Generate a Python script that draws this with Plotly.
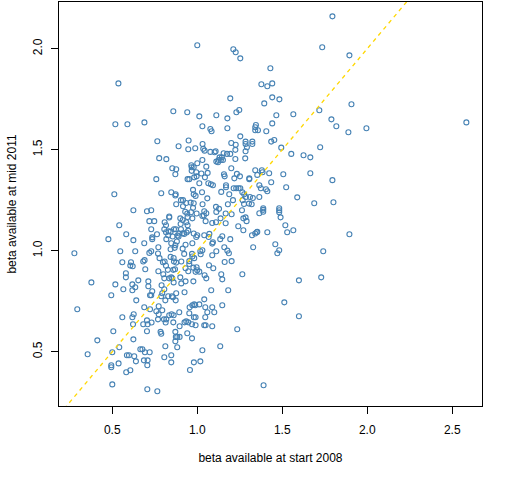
import plotly.graph_objects as go

# beta estimates (x: start 2008, y: mid 2011)
beta_start_2008 = [
    # upper left
    0.536, 0.859, 0.941, 0.518, 0.589, 0.689,
    # upper middle
    1.000, 1.212, 1.226, 1.253, 1.735, 1.430, 1.377, 1.412,
    1.441, 1.194, 1.441, 1.483, 1.394, 1.247, 1.230, 1.012,
    1.112, 1.177, 1.465, 1.565, 1.718, 1.030, 1.077, 1.084,
    1.177, 1.345, 1.341, 1.357, 1.341, 1.406, 1.441, 1.253,
    # right side
    1.795, 1.895, 1.907, 1.789, 1.818, 1.889, 1.995, 2.583, 1.795, 1.801, 1.895,
    # left middle
    0.765, 0.949, 0.890, 0.947, 0.776, 0.818, 0.965, 0.853,
    0.876, 0.967, 0.967, 0.871, 0.759, 0.943, 0.953, 0.512,
    0.788, 0.847, 0.873, 0.871, 0.904, 0.916, 0.876, 0.935,
    0.961, 0.916, 0.624, 0.704, 0.729, 0.929, 0.941, 0.963,
    0.835, 0.835, 0.900, 0.914, 0.943, 0.971, 0.935, 0.718,
    0.747, 0.808, 0.541, 0.816, 0.902, 0.943, 0.729, 0.806,
    0.831, 0.863, 0.874, 0.904, 0.947, 0.937, 0.582, 0.763,
    0.816, 0.843, 0.829, 0.894, 0.914, 0.923, 0.735, 0.735,
    0.855, 0.884, 0.890, 0.477, 0.624, 0.688, 0.771, 0.818,
    0.847, 0.880, 0.871, 0.931, 0.971, 0.277, 0.547, 0.635,
    0.729, 0.718, 0.769, 0.843, 0.867, 0.914, 0.923, 0.969,
    0.690, 0.682, 0.559, 0.610, 0.606, 0.620, 0.778, 0.798,
    0.808, 0.843, 0.861, 0.863, 0.876, 0.906, 0.971, 0.953,
    0.953, 0.694, 0.771, 0.816, 0.827, 0.859, 0.869, 0.931,
    0.947,
    # lower left
    0.580, 0.580, 0.800, 0.806, 0.835, 0.847, 0.853, 0.900,
    0.377, 0.518, 0.618, 0.635, 0.653, 0.712, 0.712, 0.565,
    0.618, 0.790, 0.806, 0.861, 0.906, 0.931, 0.494, 0.722,
    0.729, 0.735, 0.794, 0.788, 0.829, 0.851, 0.857, 0.876,
    0.925, 0.641, 0.812, 0.873, 0.294, 0.688, 0.722, 0.759,
    0.773, 0.794, 0.773, 0.626, 0.618, 0.559, 0.849, 0.835,
    0.861, 0.894, 0.953, 0.955, 0.971, 0.804, 0.818, 0.704,
    0.682, 0.731, 0.708, 0.622, 0.769, 0.814, 0.859, 0.925,
    0.935, 0.947, 0.969, 0.896, 0.506, 0.704, 0.784, 0.788,
    0.871, 0.941, 0.969, 0.874, 0.882, 0.896, 0.412, 0.624,
    0.871, 0.812, 0.882, 0.355, 0.500, 0.541, 0.665, 0.677,
    0.720, 0.692, 0.586, 0.598, 0.629, 0.806, 0.847, 0.639,
    0.686, 0.708, 0.847, 0.494, 0.494, 0.537, 0.606, 0.582,
    0.706, 0.957, 0.500, 0.706, 0.765, 0.977, 0.982, 0.980,
    0.980,
    # lower middle
    1.043, 1.053, 1.141, 1.147, 1.265, 1.598, 1.729, 1.082,
    1.182, 1.041, 1.012, 0.988, 1.047, 1.088, 1.147, 1.512,
    1.059, 1.100, 0.990, 1.047, 1.598, 0.990, 1.041, 1.049,
    1.088, 1.235, 1.030, 1.135, 1.018, 1.390,
    # centre
    1.435, 1.453, 1.284, 1.284, 1.324, 1.324, 1.200, 1.226,
    1.031, 0.988, 1.035, 1.043, 1.077, 1.108, 1.102, 1.155,
    1.175, 1.194, 1.224, 1.292, 1.284, 1.494, 1.553, 1.625,
    1.665, 1.723, 1.131, 1.145, 1.126, 1.139, 1.151, 1.122,
    1.112, 1.030, 1.224, 1.282, 1.000, 1.053, 0.979, 1.200,
    1.341, 1.380, 1.384, 1.423, 1.506, 1.665, 1.233, 1.251,
    1.218, 1.157, 1.161, 0.994, 0.996, 1.024, 1.061, 1.045,
    0.982, 1.306, 1.306, 1.353, 1.435, 1.012, 1.065, 1.080,
    1.092, 1.169, 1.169, 1.214, 1.229, 1.243, 1.253, 1.365,
    1.374, 1.404, 1.412, 1.523, 0.975, 0.979, 0.990, 1.141,
    1.188, 1.265, 1.276, 1.286, 1.310, 1.327, 1.365, 1.588,
    1.059, 1.028, 1.210, 1.267, 1.275, 1.304, 1.320, 0.979,
    1.031, 0.975, 1.110, 1.128, 1.180, 1.388, 1.388, 1.388,
    1.482, 1.482, 1.482, 1.688, 1.263, 1.112, 0.996, 1.041,
    1.053, 1.039, 1.030, 1.167, 1.202, 1.365, 1.137, 1.271,
    1.284, 1.290, 1.049, 1.088, 1.110, 1.167, 1.490, 1.518,
    1.241, 1.271, 1.412, 1.529, 1.565, 1.349, 1.341, 1.322,
    1.353, 0.979, 1.000, 0.994, 1.041, 1.071, 1.067, 1.147,
    1.194, 1.135, 1.092, 1.088, 1.459, 1.159, 1.329, 1.741,
    1.482, 1.471, 1.177, 1.186, 1.112, 1.030, 1.018, 1.020,
    0.982, 1.088, 1.069, 1.094, 1.161, 1.202, 0.996, 0.977,
    1.000, 1.012, 0.990,
]

beta_mid_2011 = [
    # upper left
    1.828, 1.690, 1.685, 1.626, 1.626, 1.635,
    # upper middle
    2.017, 1.997, 1.982, 1.952, 2.007, 1.903, 1.824, 1.814,
    1.828, 1.754, 1.759, 1.749, 1.729, 1.696, 1.685, 1.665,
    1.670, 1.655, 1.670, 1.675, 1.695, 1.616, 1.602, 1.591,
    1.606, 1.622, 1.611, 1.596, 1.596, 1.591, 1.630, 1.566,
    # right side
    2.160, 1.967, 1.725, 1.650, 1.616, 1.586, 1.606, 1.635, 1.349, 1.240, 1.081,
    # left middle
    1.542, 1.545, 1.517, 1.502, 1.458, 1.453, 1.423, 1.408,
    1.403, 1.413, 1.395, 1.378, 1.354, 1.354, 1.354, 1.279,
    1.284, 1.289, 1.279, 1.273, 1.250, 1.250, 1.230, 1.236,
    1.238, 1.220, 1.200, 1.195, 1.200, 1.193, 1.184, 1.190,
    1.169, 1.164, 1.160, 1.152, 1.167, 1.160, 1.141, 1.146,
    1.146, 1.141, 1.126, 1.126, 1.132, 1.126, 1.106, 1.106,
    1.096, 1.106, 1.106, 1.106, 1.099, 1.090, 1.081, 1.081,
    1.091, 1.094, 1.076, 1.085, 1.086, 1.083, 1.066, 1.057,
    1.070, 1.075, 1.070, 1.057, 1.052, 1.037, 1.017, 1.057,
    1.037, 1.045, 1.027, 1.029, 1.037, 0.987, 0.997, 0.997,
    0.997, 0.989, 0.986, 1.007, 1.014, 1.010, 0.984, 0.984,
    0.953, 0.946, 0.943, 0.943, 0.926, 0.923, 0.963, 0.943,
    0.946, 0.969, 0.964, 0.946, 0.941, 0.946, 0.971, 0.948,
    0.934, 0.908, 0.898, 0.925, 0.905, 0.905, 0.908, 0.913,
    0.898,
    # lower left
    0.888, 0.868, 0.883, 0.863, 0.863, 0.868, 0.863, 0.868,
    0.843, 0.833, 0.833, 0.819, 0.853, 0.848, 0.824, 0.809,
    0.804, 0.829, 0.809, 0.843, 0.838, 0.848, 0.779, 0.779,
    0.779, 0.799, 0.789, 0.774, 0.774, 0.774, 0.769, 0.789,
    0.794, 0.754, 0.754, 0.754, 0.710, 0.720, 0.710, 0.700,
    0.725, 0.705, 0.685, 0.685, 0.670, 0.670, 0.685, 0.680,
    0.680, 0.695, 0.690, 0.720, 0.730, 0.660, 0.660, 0.655,
    0.636, 0.644, 0.636, 0.636, 0.660, 0.644, 0.645, 0.645,
    0.650, 0.645, 0.636, 0.626, 0.601, 0.601, 0.598, 0.589,
    0.598, 0.591, 0.566, 0.573, 0.573, 0.573, 0.556, 0.561,
    0.551, 0.527, 0.522, 0.487, 0.497, 0.522, 0.512, 0.512,
    0.497, 0.497, 0.482, 0.482, 0.477, 0.472, 0.482, 0.452,
    0.457, 0.457, 0.447, 0.433, 0.423, 0.442, 0.408, 0.398,
    0.433, 0.409, 0.338, 0.314, 0.304, 0.848, 0.734, 0.670,
    0.447,
    # lower middle
    0.878, 0.863, 0.883, 0.858, 0.883, 0.853, 0.868, 0.804,
    0.804, 0.759, 0.734, 0.730, 0.720, 0.720, 0.730, 0.744,
    0.695, 0.695, 0.670, 0.670, 0.675, 0.631, 0.631, 0.631,
    0.626, 0.611, 0.507, 0.527, 0.452, 0.334,
    # centre
    1.540, 1.548, 1.540, 1.528, 1.540, 1.528, 1.533, 1.524,
    1.528, 1.507, 1.504, 1.495, 1.489, 1.492, 1.487, 1.482,
    1.479, 1.479, 1.499, 1.512, 1.492, 1.510, 1.479, 1.472,
    1.462, 1.512, 1.462, 1.462, 1.449, 1.449, 1.449, 1.438,
    1.441, 1.449, 1.454, 1.457, 1.433, 1.416, 1.413, 1.408,
    1.398, 1.398, 1.388, 1.383, 1.378, 1.383, 1.380, 1.368,
    1.358, 1.378, 1.368, 1.388, 1.368, 1.382, 1.385, 1.363,
    1.363, 1.358, 1.354, 1.375, 1.339, 1.334, 1.334, 1.329,
    1.324, 1.324, 1.314, 1.309, 1.309, 1.309, 1.309, 1.324,
    1.309, 1.304, 1.294, 1.314, 1.301, 1.279, 1.271, 1.291,
    1.279, 1.289, 1.279, 1.266, 1.266, 1.261, 1.266, 1.264,
    1.259, 1.289, 1.250, 1.250, 1.231, 1.233, 1.230, 1.235,
    1.230, 1.212, 1.217, 1.207, 1.230, 1.210, 1.202, 1.193,
    1.210, 1.200, 1.190, 1.235, 1.200, 1.192, 1.184, 1.195,
    1.185, 1.174, 1.172, 1.184, 1.180, 1.185, 1.160, 1.160,
    1.165, 1.146, 1.146, 1.137, 1.141, 1.136, 1.165, 1.126,
    1.121, 1.101, 1.091, 1.091, 1.101, 1.091, 1.085, 1.076,
    1.093, 1.085, 1.076, 1.068, 1.076, 1.083, 1.068, 1.071,
    1.057, 1.057, 1.042, 1.035, 1.032, 1.017, 1.017, 0.997,
    1.002, 0.987, 1.000, 0.987, 0.997, 1.002, 0.997, 0.982,
    0.963, 0.977, 0.928, 0.913, 0.944, 0.948, 0.918, 0.916,
    0.903, 0.896, 0.895,
]

x_ticks = [0.5, 1.0, 1.5, 2.0, 2.5]
y_ticks = [0.5, 1.0, 1.5, 2.0]
x_range = [0.1865, 2.675]
y_range = [0.231, 2.231]
ref_slope, ref_intercept = 1.0, 0.0   # y = x reference line

font = dict(family="Liberation Sans, Arial", size=12, color="black")

fig = go.Figure()
fig.add_trace(go.Scatter(
    x=beta_start_2008, y=beta_mid_2011, mode="markers",
    marker=dict(symbol="circle-open", size=5, color="#4682B4",
                line=dict(width=1.1, color="#4682B4")),
    showlegend=False, hoverinfo="x+y",
))
# dashed reference line across the whole x range
fig.add_trace(go.Scatter(
    x=x_range, y=[ref_slope * v + ref_intercept for v in x_range],
    mode="lines", line=dict(color="#FFD700", width=1.3, dash="4px,4px"),
    showlegend=False, hoverinfo="skip",
))

axis_common = dict(
    showgrid=False, zeroline=False, showline=True, linecolor="black",
    linewidth=1, mirror=True, ticks="outside", ticklen=7, tickwidth=1,
    tickcolor="black", tickfont=font, tickformat=".1f", automargin=False,
)

fig.update_layout(
    width=512, height=480,
    margin=dict(l=59, r=30, t=2, b=74),
    paper_bgcolor="white", plot_bgcolor="white",
    font=font,
    xaxis=dict(range=x_range, tickvals=x_ticks, ticklabelstandoff=6,
               title=dict(text="beta available at start 2008", font=font, standoff=17),
               **axis_common),
    yaxis=dict(range=y_range, tickvals=y_ticks, tickangle=-90, ticklabelstandoff=4,
               title=dict(text="beta available at mid 2011", font=font, standoff=12),
               **axis_common),
)

# drop the default 8px page margin so the figure sits at the window corner
fig.write_html("out.html", config={"displayModeBar": False},
               post_script="document.body.style.margin='0';")
